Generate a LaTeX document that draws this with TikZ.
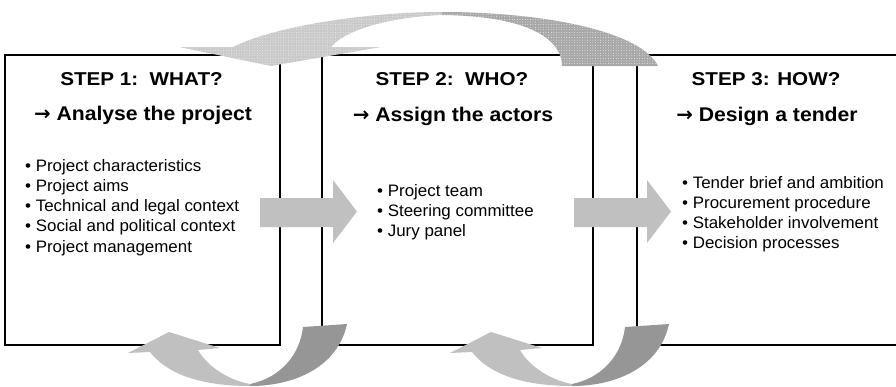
\documentclass[tikz,border=0pt]{standalone}
\usepackage{fontspec}
\setmainfont{Liberation Sans}
\newfontfamily\arrowfont{DejaVu Sans}
\newfontfamily\titlefont[FakeStretch=1.11]{Liberation Sans}
\newfontfamily\goalfont[FakeStretch=1.07]{Liberation Sans}
\newfontfamily\itemfont[FakeStretch=1.02]{Liberation Sans}
\usetikzlibrary{patterns.meta}
\definecolor{arrowlight}{RGB}{192,192,192}
\definecolor{arrowdark}{RGB}{150,150,150}
\definecolor{looplight}{RGB}{202,202,202}
\definecolor{loopdark}{RGB}{168,168,168}
\newcommand{\goalarrow}{{\arrowfont\bfseries →}}
\begin{document}
\begin{tikzpicture}[x=1pt,y=-1pt,
  stepbox/.style={draw, line width=1.8pt, inner sep=0pt, minimum height=290pt},
  steptitle/.style={anchor=base, inner sep=0pt, font=\titlefont\fontsize{18.6}{22}\selectfont\bfseries},
  stepgoal/.style={anchor=base, inner sep=0pt, font=\goalfont\fontsize{19.8}{24}\selectfont\bfseries},
  stepitem/.style={anchor=base west, inner sep=0pt, font=\itemfont\fontsize{16.6}{20}\selectfont},
  flowarrow/.style={fill=arrowlight},
  loopfront/.style={fill=arrowlight},
  loopback/.style={fill=arrowdark},
  toplight/.style={fill=looplight},
  topdark/.style={fill=loopdark},
  dotted texture/.style={pattern={Dots[distance=2.6pt, radius=0.45pt]}, pattern color=white!80!looplight}
]
\useasboundingbox (0,0) rectangle (896,386);

% the three step boxes
\node[stepbox, minimum width=275pt] (box1) at (142.5,200) {};
\node[stepbox, minimum width=271pt] (box2) at (457.5,200) {};
\node[stepbox, minimum width=268pt] (box3) at (771,200) {};

% headings
\node[steptitle] (title1) at (141.5,85) {STEP 1:\ \ WHAT?};
\node[steptitle] (title2) at (452,85) {STEP 2:\ \ WHO?};
\node[steptitle] (title3) at (766,85) {STEP 3: HOW?};
\node[stepgoal] (goal1) at (143,120) {\goalarrow\ Analyse the project};
\node[stepgoal] (goal2) at (453,121) {\goalarrow\ Assign the actors};
\node[stepgoal] (goal3) at (767,121) {\goalarrow\ Design a tender};

% bullet lists, one node per line
\foreach \item [count=\i] in {Project characteristics, Project aims,
    Technical and legal context, Social and political context, Project management}
  \node[stepitem] (listA\i) at (25,{171+20.3*(\i-1)}) {• \item};
\foreach \item [count=\i] in {Project team, Steering committee, Jury panel}
  \node[stepitem] (listB\i) at (377,{196.5+20.2*(\i-1)}) {• \item};
\foreach \item [count=\i] in {Tender brief and ambition, Procurement procedure,
    Stakeholder involvement, Decision processes}
  \node[stepitem] (listC\i) at (682,{188+20*(\i-1)}) {• \item};

% block arrows between the steps
\fill[flowarrow] (260,198) -- (333,198) -- (333,180) -- (357,211.5) -- (333,243) -- (333,227) -- (260,227) -- cycle;
\fill[flowarrow] (574,198) -- (647,198) -- (647,180) -- (671,211.5) -- (647,243) -- (647,227) -- (574,227) -- cycle;

% curved feedback arrows under the boxes
\foreach \dx in {0,322}{
  \begin{scope}[xshift=\dx]
    \fill[loopback] (250,386) .. controls (296,386) and (338,366) .. (347,324) -- (303,327)
      .. controls (300,355) and (280,378) .. (250,384) -- cycle;
    \fill[loopfront] (128,353) -- (150,352) .. controls (172,380) and (215,386) .. (250,386)
      -- (250,384) .. controls (228,380) and (207,366) .. (198,350) -- (220,348) -- (169,332) -- cycle;
  \end{scope}
}

% large arrow over the top, from step 3 back to step 1
\fill[topdark] (442,12) .. controls (540,12) and (640,30) .. (658,66) -- (562,66)
  .. controls (562,40) and (530,16) .. (442,15) -- cycle;
\fill[toplight] (179,47) -- (233,47) .. controls (270,28) and (360,12) .. (442,12) -- (442,15)
  .. controls (390,17) and (345,30) .. (331,47) -- (381,47) -- (271,66) -- cycle;
\fill[dotted texture] (442,12) .. controls (540,12) and (640,30) .. (658,66) -- (562,66)
  .. controls (562,40) and (530,16) .. (442,15) -- cycle;
\fill[dotted texture] (179,47) -- (233,47) .. controls (270,28) and (360,12) .. (442,12) -- (442,15)
  .. controls (390,17) and (345,30) .. (331,47) -- (381,47) -- (271,66) -- cycle;
\end{tikzpicture}
\end{document}
